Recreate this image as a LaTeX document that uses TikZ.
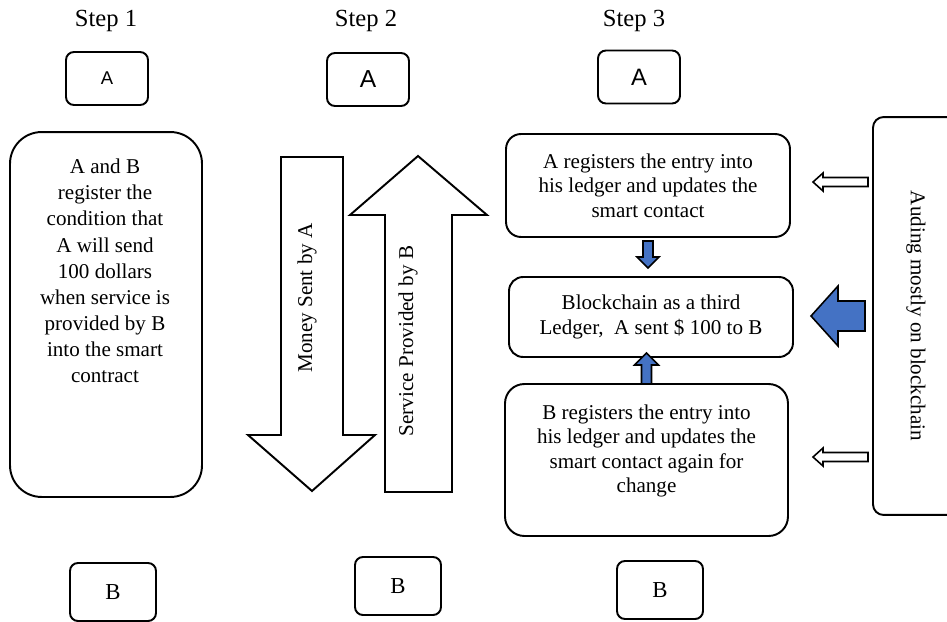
\documentclass[tikz,border=0pt]{standalone}
\usepackage{fontspec}
\setmainfont{Liberation Serif}
\setsansfont{Liberation Sans}
\usetikzlibrary{calc}

\definecolor{officeblue}{HTML}{4472C4}

\begin{document}
\begin{tikzpicture}[x=0.02cm, y=-0.02cm,
    every node/.style={inner sep=0pt, outer sep=0pt},
    steplabel/.style={font=\fontsize{14}{16}\selectfont},
    body/.style={align=center, font=\fontsize{12}{14}\selectfont},
    roundbox/.style={draw, line width=1.1pt},
    partyA/.style={roundbox, rounded corners=4.5pt, minimum width=1.64cm, minimum height=1.06cm},
    partyB/.style={roundbox, rounded corners=4.5pt, minimum width=1.72cm, minimum height=1.16cm,
      font=\fontsize{13}{15}\selectfont},
    outline/.style={draw, fill=white, line width=1.1pt, line join=miter},
    bluearrow/.style={draw, fill=officeblue, line width=0.9pt, line join=miter}]
  \useasboundingbox (0,0) rectangle (947,622);
  % Step titles
  \node[steplabel] (title1) at (106,21) {Step 1};
  \node[steplabel] (title2) at (366,21) {Step 2};
  \node[steplabel] (title3) at (634,21) {Step 3};
  % Parties
  \node[partyA, font=\sffamily\fontsize{10.5}{12}\selectfont] (a1) at (107,78.5) {A};
  \node[partyA, font=\sffamily\fontsize{14}{16}\selectfont] (a2) at (368,79.5) {A};
  \node[partyA, font=\sffamily\fontsize{13.5}{16}\selectfont] (a3) at (639,77) {A};
  \node[partyB] (b1) at (113,592) {B};
  \node[partyB] (b2) at (398,586) {B};
  \node[partyB] (b3) at (660,590) {B};
  % Step 1: condition in the smart contract
  \node[roundbox, rounded corners=18pt, minimum width=3.84cm, minimum height=7.3cm] (cond) at (106,314.5) {};
  \node[body, font=\fontsize{12}{14.9}\selectfont] (condtext) at (105,271)
    {A and B\\register the\\condition that\\A will send\\100 dollars\\when service is\\provided by B\\into the smart\\contract};
  % Step 2: exchange
  \draw[outline] (281,157) -- (343,157) -- (343,435) -- (375,435) -- (312,491) -- (248,435) -- (281,435) -- cycle;
  \draw[outline] (385,492) -- (452,492) -- (452,215) -- (487,215) -- (418,156) -- (350,215) -- (385,215) -- cycle;
  \node[body, rotate=90] (money) at (307,298) {Money Sent by A};
  \node[body, rotate=90] (service) at (408,341) {Service Provided by B};
  % Step 3: ledgers
  \node[roundbox, body, rounded corners=8.5pt, minimum width=5.68cm, minimum height=2.06cm] (regA) at (648,185.5)
    {A registers the entry into\\his ledger and updates the\\smart contact};
  \node[roundbox, body, rounded corners=8pt, minimum width=5.68cm, minimum height=1.6cm] (chain) at (651,317)
    {Blockchain as a third\\Ledger,\ \ A sent \$ 100 to B};
  \node[roundbox, rounded corners=11pt, minimum width=5.66cm, minimum height=3.04cm] (regB) at (646.5,460) {};
  \node[body] (regBtext) at (646.5,451)
    {B registers the entry into\\his ledger and updates the\\smart contact again for\\change};
  % Auditing box (cut at the right edge)
  \begin{scope}
    \clip (0,0) rectangle (947,622);
    \node[roundbox, rounded corners=6pt, minimum width=1.76cm, minimum height=7.96cm] (audit) at (917,316) {};
  \end{scope}
  \node[body, rotate=-90] (audittext) at (916,316) {Auding mostly on blockchain};
  % Block arrows
  \draw[bluearrow, shift={(regA.south)}] (-5,4) -- (5,4) -- (5,20) -- (11,20) -- (0,31) -- (-11,20) -- (-5,20) -- cycle;
  \draw[bluearrow, shift={(regB.north)}] (-5,0) -- (5,0) -- (5,-19) -- (12,-19) -- (0,-31) -- (-12,-19) -- (-5,-19) -- cycle;
  \draw[bluearrow, shift={(audit.west)}] (-8,-15) -- (-35,-15) -- (-35,-30) -- (-62,0) -- (-35,30) -- (-35,15) -- (-8,15) -- cycle;
  \draw[outline, line width=0.9pt, shift={($(audit.west |- regA.east)+(0,-3.5)$)}]
    (-5,-4.5) -- (-50,-4.5) -- (-50,-9) -- (-60,0) -- (-50,9) -- (-50,4.5) -- (-5,4.5) -- cycle;
  \draw[outline, line width=0.9pt, shift={($(audit.west |- regB.east)+(0,-3)$)}]
    (-5,-4.5) -- (-50,-4.5) -- (-50,-9) -- (-60,0) -- (-50,9) -- (-50,4.5) -- (-5,4.5) -- cycle;
\end{tikzpicture}
\end{document}
